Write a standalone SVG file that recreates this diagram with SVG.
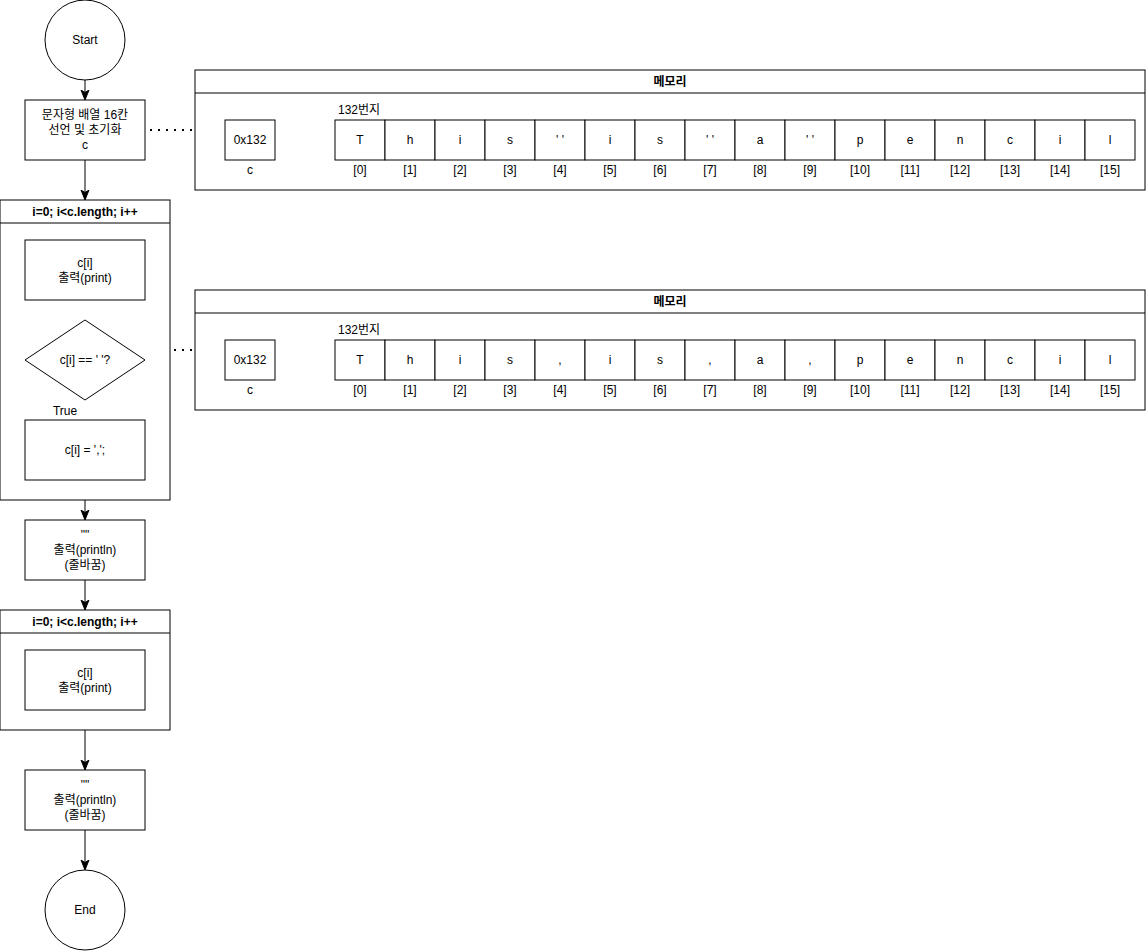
<svg xmlns="http://www.w3.org/2000/svg" width="1146" height="951" viewBox="0 0 1146 951">
<defs>
<style>
text{font-family:"Liberation Sans","Noto Sans CJK KR",Arial,sans-serif;font-size:12px;fill:#000;text-anchor:middle}
.b{font-weight:bold}
.s{fill:#fff;stroke:#000;stroke-width:1}
.c{fill:none;stroke:#000;stroke-width:1}
.d{fill:none;stroke:#000;stroke-width:2;stroke-dasharray:2 6}
</style>
<marker id="ah" viewBox="0 0 10 10" refX="9" refY="5" markerWidth="10" markerHeight="10" markerUnits="userSpaceOnUse" orient="auto">
<path d="M0,1 L10,5 L0,9 L2.5,5 Z" fill="#000" stroke="#000"/>
</marker>
</defs>
<rect width="1146" height="951" fill="#fff"/>
<g id="connectors">
<line class="c" x1="85" y1="80" x2="85" y2="99" marker-end="url(#ah)"/>
<line class="c" x1="85" y1="160" x2="85" y2="199" marker-end="url(#ah)"/>
<line class="c" x1="85" y1="500" x2="85" y2="519" marker-end="url(#ah)"/>
<line class="c" x1="85" y1="580" x2="85" y2="609" marker-end="url(#ah)"/>
<line class="c" x1="85" y1="730" x2="85" y2="769" marker-end="url(#ah)"/>
<line class="c" x1="85" y1="830" x2="85" y2="869" marker-end="url(#ah)"/>
<line class="c" x1="85" y1="400" x2="85" y2="420"/>
<line class="d" x1="150" y1="130" x2="195" y2="130"/>
<line class="d" x1="150" y1="350" x2="195" y2="350"/>
<line class="c" x1="275" y1="140" x2="329" y2="110" marker-end="url(#ah)"/>
<line class="c" x1="275" y1="360" x2="329" y2="330" marker-end="url(#ah)"/>
</g>
<g id="start"><circle class="s" cx="85" cy="40" r="40"/><text x="85" y="44">Start</text></g>
<g id="init"><rect class="s" x="25" y="100" width="120" height="60"/><text x="85" y="119">문자형 배열 16칸</text><text x="85" y="134">선언 및 초기화</text><text x="85" y="149">c</text></g>
<g id="loop1"><rect class="s" x="0" y="200" width="170" height="300"/><line class="c" x1="0" y1="223" x2="170" y2="223"/><text class="b" x="85" y="216">i=0; i&lt;c.length; i++</text></g>
<g id="print1"><rect class="s" x="25" y="240" width="120" height="60"/><text x="85" y="267">c[i]</text><text x="85" y="282">출력(print)</text></g>
<g id="cond"><path class="s" d="M85,320 L145,360 L85,400 L25,360 Z"/><text x="85" y="364">c[i] == ' '?</text><text x="65" y="415">True</text></g>
<g id="assign"><rect class="s" x="25" y="420" width="120" height="60"/><text x="85" y="454">c[i] = ',';</text></g>
<g id="println1"><rect class="s" x="25" y="520" width="120" height="60"/><text x="85" y="539">""</text><text x="85" y="554">출력(println)</text><text x="85" y="569">(줄바꿈)</text></g>
<g id="loop2"><rect class="s" x="0" y="610" width="170" height="120"/><line class="c" x1="0" y1="633" x2="170" y2="633"/><text class="b" x="85" y="626">i=0; i&lt;c.length; i++</text></g>
<g id="print2"><rect class="s" x="25" y="650" width="120" height="60"/><text x="85" y="677">c[i]</text><text x="85" y="692">출력(print)</text></g>
<g id="println2"><rect class="s" x="25" y="770" width="120" height="60"/><text x="85" y="789">""</text><text x="85" y="804">출력(println)</text><text x="85" y="819">(줄바꿈)</text></g>
<g id="end"><circle class="s" cx="85" cy="910" r="40"/><text x="85" y="914">End</text></g>
<g id="memory1">
<rect class="s" x="195" y="70" width="950" height="120"/><line class="c" x1="195" y1="93" x2="1145" y2="93"/><text class="b" x="670" y="86">메모리</text>
<rect class="s" x="225" y="120" width="50" height="40"/><text x="250" y="144">0x132</text><text x="250" y="174">c</text>
<text x="338" y="114" style="text-anchor:start">132번지</text>
<g>
<rect class="s" x="335" y="120" width="50" height="40"/><text x="360" y="144">T</text><text x="360" y="174">[0]</text>
<rect class="s" x="385" y="120" width="50" height="40"/><text x="410" y="144">h</text><text x="410" y="174">[1]</text>
<rect class="s" x="435" y="120" width="50" height="40"/><text x="460" y="144">i</text><text x="460" y="174">[2]</text>
<rect class="s" x="485" y="120" width="50" height="40"/><text x="510" y="144">s</text><text x="510" y="174">[3]</text>
<rect class="s" x="535" y="120" width="50" height="40"/><text x="560" y="144">' '</text><text x="560" y="174">[4]</text>
<rect class="s" x="585" y="120" width="50" height="40"/><text x="610" y="144">i</text><text x="610" y="174">[5]</text>
<rect class="s" x="635" y="120" width="50" height="40"/><text x="660" y="144">s</text><text x="660" y="174">[6]</text>
<rect class="s" x="685" y="120" width="50" height="40"/><text x="710" y="144">' '</text><text x="710" y="174">[7]</text>
<rect class="s" x="735" y="120" width="50" height="40"/><text x="760" y="144">a</text><text x="760" y="174">[8]</text>
<rect class="s" x="785" y="120" width="50" height="40"/><text x="810" y="144">' '</text><text x="810" y="174">[9]</text>
<rect class="s" x="835" y="120" width="50" height="40"/><text x="860" y="144">p</text><text x="860" y="174">[10]</text>
<rect class="s" x="885" y="120" width="50" height="40"/><text x="910" y="144">e</text><text x="910" y="174">[11]</text>
<rect class="s" x="935" y="120" width="50" height="40"/><text x="960" y="144">n</text><text x="960" y="174">[12]</text>
<rect class="s" x="985" y="120" width="50" height="40"/><text x="1010" y="144">c</text><text x="1010" y="174">[13]</text>
<rect class="s" x="1035" y="120" width="50" height="40"/><text x="1060" y="144">i</text><text x="1060" y="174">[14]</text>
<rect class="s" x="1085" y="120" width="50" height="40"/><text x="1110" y="144">l</text><text x="1110" y="174">[15]</text>
</g>
</g>
<g id="memory2">
<rect class="s" x="195" y="290" width="950" height="120"/><line class="c" x1="195" y1="313" x2="1145" y2="313"/><text class="b" x="670" y="306">메모리</text>
<rect class="s" x="225" y="340" width="50" height="40"/><text x="250" y="364">0x132</text><text x="250" y="394">c</text>
<text x="338" y="334" style="text-anchor:start">132번지</text>
<g>
<rect class="s" x="335" y="340" width="50" height="40"/><text x="360" y="364">T</text><text x="360" y="394">[0]</text>
<rect class="s" x="385" y="340" width="50" height="40"/><text x="410" y="364">h</text><text x="410" y="394">[1]</text>
<rect class="s" x="435" y="340" width="50" height="40"/><text x="460" y="364">i</text><text x="460" y="394">[2]</text>
<rect class="s" x="485" y="340" width="50" height="40"/><text x="510" y="364">s</text><text x="510" y="394">[3]</text>
<rect class="s" x="535" y="340" width="50" height="40"/><text x="560" y="364">,</text><text x="560" y="394">[4]</text>
<rect class="s" x="585" y="340" width="50" height="40"/><text x="610" y="364">i</text><text x="610" y="394">[5]</text>
<rect class="s" x="635" y="340" width="50" height="40"/><text x="660" y="364">s</text><text x="660" y="394">[6]</text>
<rect class="s" x="685" y="340" width="50" height="40"/><text x="710" y="364">,</text><text x="710" y="394">[7]</text>
<rect class="s" x="735" y="340" width="50" height="40"/><text x="760" y="364">a</text><text x="760" y="394">[8]</text>
<rect class="s" x="785" y="340" width="50" height="40"/><text x="810" y="364">,</text><text x="810" y="394">[9]</text>
<rect class="s" x="835" y="340" width="50" height="40"/><text x="860" y="364">p</text><text x="860" y="394">[10]</text>
<rect class="s" x="885" y="340" width="50" height="40"/><text x="910" y="364">e</text><text x="910" y="394">[11]</text>
<rect class="s" x="935" y="340" width="50" height="40"/><text x="960" y="364">n</text><text x="960" y="394">[12]</text>
<rect class="s" x="985" y="340" width="50" height="40"/><text x="1010" y="364">c</text><text x="1010" y="394">[13]</text>
<rect class="s" x="1035" y="340" width="50" height="40"/><text x="1060" y="364">i</text><text x="1060" y="394">[14]</text>
<rect class="s" x="1085" y="340" width="50" height="40"/><text x="1110" y="364">l</text><text x="1110" y="394">[15]</text>
</g>
</g>
</svg>
